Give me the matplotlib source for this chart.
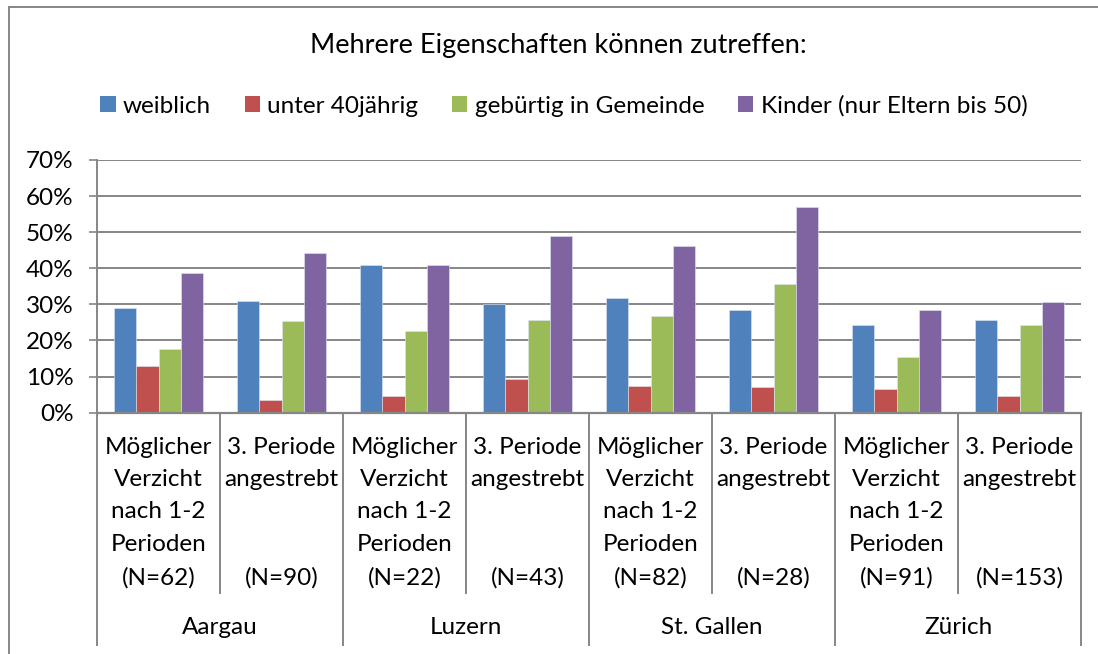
import matplotlib.pyplot as plt
import numpy as np
from matplotlib.transforms import blended_transform_factory
from matplotlib.lines import Line2D
from matplotlib.patches import Patch

kantone = ["Aargau", "Luzern", "St. Gallen", "Zürich"]
gruppe_zeilen = [
    ["Möglicher", "Verzicht", "nach 1-2", "Perioden"],
    ["3. Periode", "angestrebt"],
]
n_werte = [62, 90, 22, 43, 82, 28, 91, 153]
serien = ["weiblich", "unter 40jährig", "gebürtig in Gemeinde", "Kinder (nur Eltern bis 50)"]
weiblich = [28.9, 31.0, 40.8, 30.2, 31.7, 28.5, 24.2, 25.6]
unter40 = [12.9, 3.4, 4.6, 9.3, 7.4, 7.1, 6.6, 4.6]
gebuertig = [17.6, 25.5, 22.6, 25.6, 26.9, 35.7, 15.3, 24.2]
kinder = [38.6, 44.3, 40.8, 48.9, 46.3, 57.1, 28.5, 30.7]
farben = ["#4F81BD", "#C0504D", "#9BBB59", "#8064A2"]
yticks = [0, 10, 20, 30, 40, 50, 60, 70]

plt.rcParams['font.family'] = ['Lato', 'DejaVu Sans']
grau = "#868686"
fs = 17.5

W, H = 1098, 654
fig = plt.figure(figsize=(W / 100, H / 100), dpi=100)
ax = fig.add_axes([97 / W, 1 - 412.7 / H, (1081 - 97) / W, (412.7 - 160) / H])

x = np.arange(len(n_werte)) + 0.5
breite = 0.181
for k, werte in enumerate([weiblich, unter40, gebuertig, kinder]):
    ax.bar(x + (k - 1.5) * breite, werte, breite, color=farben[k],
           edgecolor="#dfe6f0", linewidth=0.4, zorder=3)

ax.set_xlim(0, len(n_werte))
ax.set_ylim(0, 70)
ax.set_yticks(yticks)
ax.set_yticklabels([f"{t}%" for t in yticks], fontsize=fs)
ax.set_xticks([])
ax.yaxis.grid(True, color=grau, linewidth=1.4, zorder=0)
ax.tick_params(axis="y", length=6, width=1.2, color=grau, pad=11)
for s in ["top", "right", "bottom"]:
    ax.spines[s].set_visible(False)
ax.spines["left"].set_color(grau)
ax.spines["left"].set_linewidth(1.4)
ax.axhline(0, color=grau, linewidth=1.6, zorder=4, clip_on=False)

tr = blended_transform_factory(ax.transData, fig.transFigure)
def fy(py):
    return 1 - py / H

# Kategorienbeschriftungen
zeilen_y = [447, 479.5, 512, 544.5, 577.5]
for i, n in enumerate(n_werte):
    zeilen = gruppe_zeilen[i % 2]
    for j, z in enumerate(zeilen):
        ax.text(x[i], fy(zeilen_y[j]), z, transform=tr, ha="center", va="center", fontsize=fs)
    ax.text(x[i], fy(zeilen_y[4]), f"(N={n})", transform=tr, ha="center", va="center", fontsize=fs)
for g, name in enumerate(kantone):
    ax.text(2 * g + 1, fy(628), name, transform=tr, ha="center", va="center", fontsize=fs)

# Trennlinien unter der Achse
for i in range(len(n_werte) + 1):
    unten = 645 if i % 2 == 0 else 593
    ax.add_line(Line2D([i, i], [fy(412.7), fy(unten)], transform=tr, color=grau,
                       linewidth=1.4, clip_on=False))

# Titel und Legende
fig.text(558 / W, fy(46), "Mehrere Eigenschaften können zutreffen:", ha="center",
         va="center", fontsize=19.5)
handles = [Patch(facecolor=c, edgecolor="none") for c in farben]
fig.legend(handles, serien, loc="center", bbox_to_anchor=(564 / W, fy(106)), ncol=4,
           frameon=False, fontsize=fs, handlelength=0.62, handleheight=0.62,
           handletextpad=0.3, columnspacing=1.4)

# Rahmen des Diagramms
fig.add_artist(Line2D([9 / W, 9 / W], [0, fy(7)], color=grau, linewidth=1.4))
fig.add_artist(Line2D([9 / W, 1], [fy(7), fy(7)], color=grau, linewidth=1.4))

fig.savefig("out.png", dpi=100)
